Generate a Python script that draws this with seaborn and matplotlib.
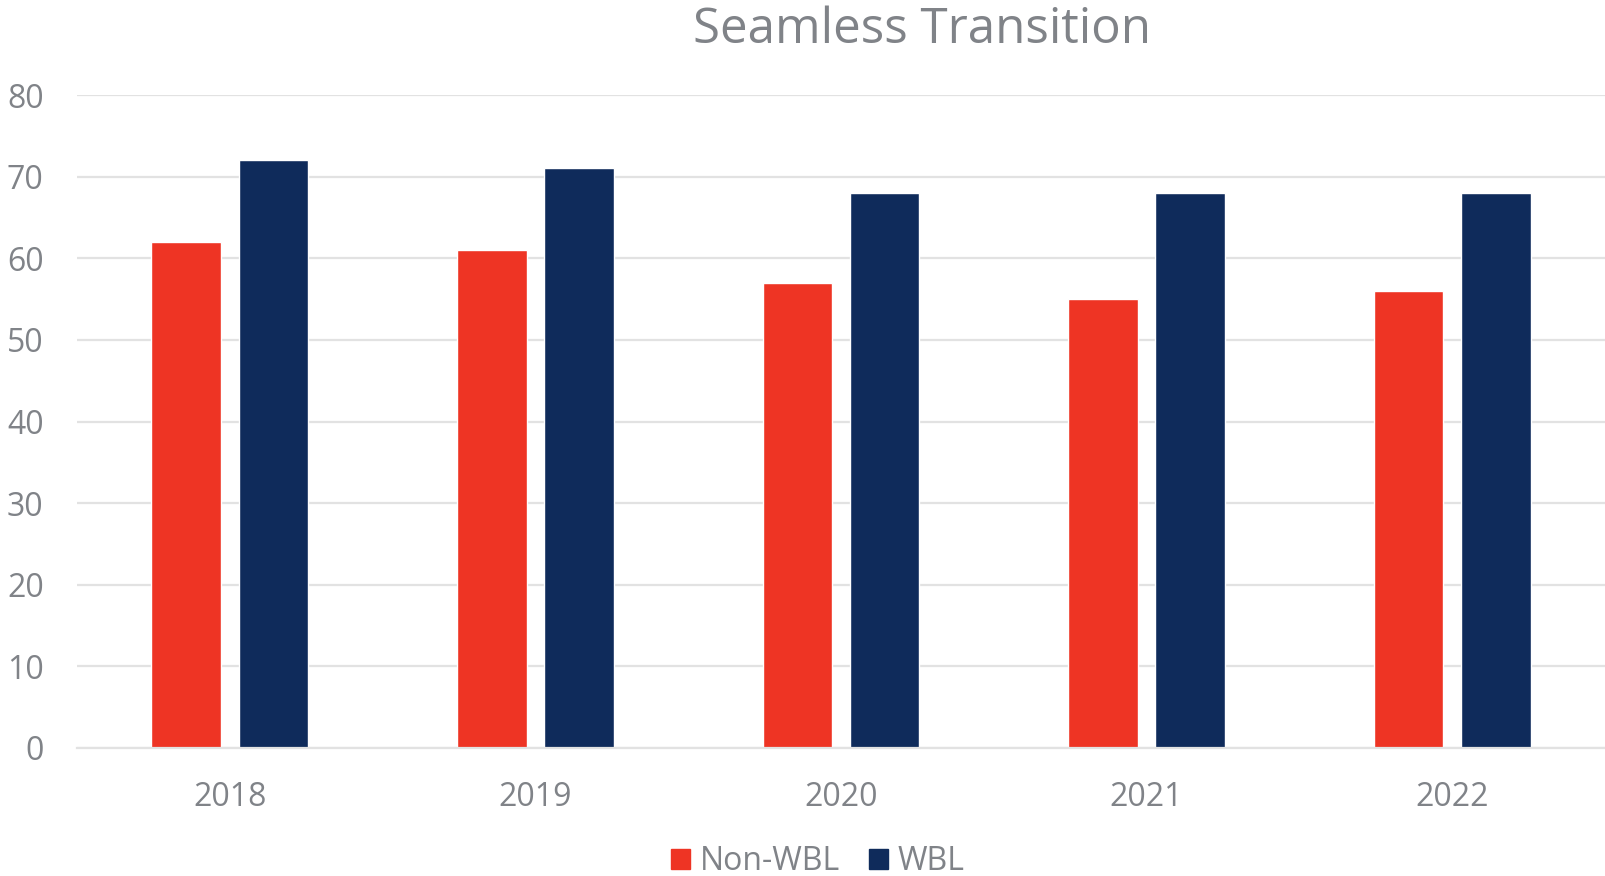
import pandas as pd
import matplotlib
matplotlib.use("Agg")
import matplotlib.pyplot as plt
import seaborn as sns

# Chart data
years = ["2018", "2019", "2020", "2021", "2022"]
non_wbl = [62, 61, 57, 55, 56]
wbl = [72, 71, 68, 68, 68]
series_names = ["Non-WBL", "WBL"]
y_ticks = [0, 10, 20, 30, 40, 50, 60, 70, 80]

RED = "#EE3424"
NAVY = "#0F2B5B"
TEXT = "#808388"
GRID = "#E2E2E2"

df = pd.DataFrame({
    "year": years * 2,
    "value": non_wbl + wbl,
    "series": [series_names[0]] * len(years) + [series_names[1]] * len(years),
})

sns.set_theme(style="white")
plt.rcParams["font.family"] = ["Open Sans", "DejaVu Sans"]

fig = plt.figure(figsize=(16.05, 8.76), dpi=100)
ax = fig.add_axes([77 / 1605, 1 - 748 / 876, 1 - 77 / 1605, (748 - 95) / 876])

sns.barplot(data=df, x="year", y="value", hue="series", order=years,
            hue_order=series_names, palette=[RED, NAVY], width=0.57, gap=0.2,
            saturation=1, ax=ax, legend=False)

ax.set_ylim(0, 80)
ax.set_xlim(-0.5, 4.5)
ax.set_yticks(y_ticks)
ax.set_xlabel("")
ax.set_ylabel("")
ax.grid(axis="y", color=GRID, linewidth=1.6)
ax.set_axisbelow(True)
for side in ["top", "right", "left"]:
    ax.spines[side].set_visible(False)
ax.spines["bottom"].set_color(GRID)
ax.spines["bottom"].set_linewidth(1.6)
ax.tick_params(axis="y", length=0, pad=24, labelsize=23, labelcolor=TEXT)
ax.tick_params(axis="x", length=0, pad=24, labelsize=23, labelcolor=TEXT)

fig.text(922 / 1605, 1 - 43 / 876, "Seamless Transition", ha="center",
         va="baseline", fontsize=35.5, color=TEXT)

handles = [plt.Rectangle((0, 0), 1, 1, color=c) for c in [RED, NAVY]]
fig.legend(handles, series_names, loc="center", bbox_to_anchor=(818 / 1605, 1 - 862 / 876),
           ncol=2, frameon=False, fontsize=23, labelcolor=TEXT, handlelength=0.6,
           handleheight=0.6, handletextpad=0.3, columnspacing=0.9)

fig.savefig("out.png", dpi=100)
